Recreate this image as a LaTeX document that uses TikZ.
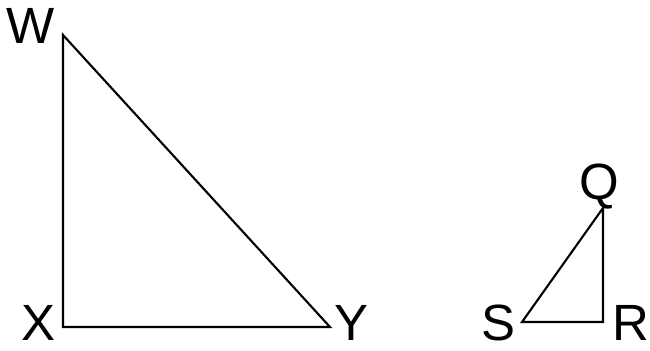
\documentclass[tikz,border=0pt]{standalone}
\usepackage{fontspec}
\setmainfont{Liberation Sans}
\usetikzlibrary{positioning}

\begin{document}
\begin{tikzpicture}[
    side/.style={draw, line width=1.2pt, line join=miter},
    vlabel/.style={inner sep=0pt, anchor=base, font=\fontsize{29}{33}\selectfont}
]
\useasboundingbox (0,0) rectangle (13,7.02);

% Large triangle
\coordinate (W) at (1.26,6.32);
\coordinate (X) at (1.26,0.48);
\coordinate (Y) at (6.60,0.48);
\draw[side] (W) -- (X) -- (Y) -- cycle;

\node[vlabel] (lblW) at (0.62,6.14) {W};
\node[vlabel] (lblX) at (0.76,0.21) {X};
\node[vlabel] (lblY) at (7.02,0.21) {Y};

% Small triangle
\coordinate (Q) at (12.06,2.86);
\coordinate (R) at (12.06,0.58);
\coordinate (S) at (10.44,0.58);
\draw[side] (Q) -- (R) -- (S) -- cycle;

\node[vlabel] (lblQ) at (11.98,3.02) {Q};
\node[vlabel] (lblS) at (9.96,0.21) {S};
\node[vlabel] (lblR) at (12.62,0.21) {R};

\end{tikzpicture}
\end{document}
